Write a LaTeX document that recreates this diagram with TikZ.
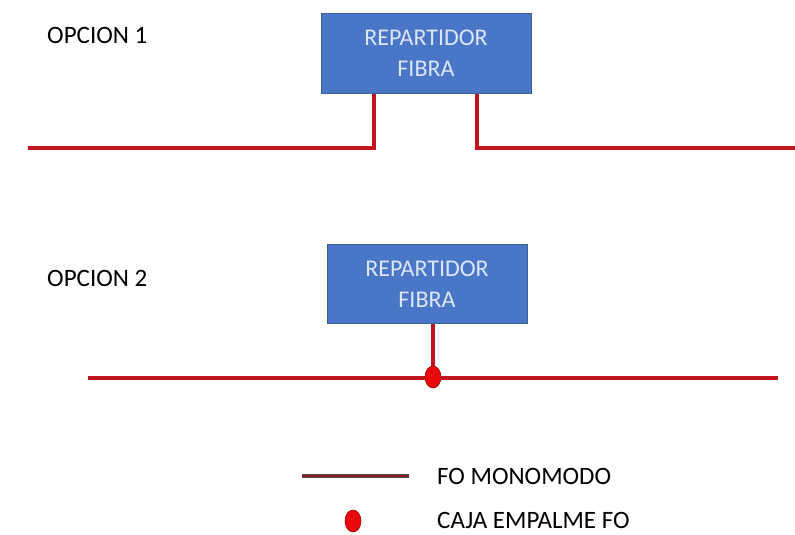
\documentclass[tikz,border=0pt]{standalone}
\usetikzlibrary{shapes.geometric}
\usepackage{fontspec}
\setmainfont{Carlito}
\begin{document}
\begin{tikzpicture}[x=1pt,y=-1pt,
  fiber/.style={draw=fiberred,line width=3.5pt},
  boxstyle/.style={draw=boxedge,fill=boxblue,line width=1pt,minimum width=#1,minimum height=79pt,align=center,
     font=\fontsize{24}{31}\selectfont,text=boxtext,inner sep=0pt},
  lbl/.style={anchor=west,font=\fontsize{25}{30}\selectfont,text=black,inner sep=0pt},
  splice/.style={ellipse,fill=dotred,draw=dotedge,line width=0.6pt,minimum width=16pt,minimum height=22pt,inner sep=0pt}]
\definecolor{fiberred}{HTML}{C0141E}
\definecolor{boxblue}{HTML}{4A76C8}
\definecolor{boxedge}{HTML}{3A5E9E}
\definecolor{boxtext}{HTML}{DCE6F5}
\definecolor{dotred}{HTML}{E80A0A}
\definecolor{dotedge}{HTML}{A00000}
\definecolor{legline}{HTML}{8E1A22}
\useasboundingbox (0,0) rectangle (795,535);
% option 1
\node[lbl] (op1) at (47,35) {OPCION 1};
\node[boxstyle=210pt] (b1) at (426,53.5) {REPARTIDOR\\FIBRA};
\coordinate (l1a) at (28,148);
\coordinate (l1b) at (374,148);
\coordinate (r1a) at (477,148);
\coordinate (r1b) at (795,148);
\draw[fiber] (l1a) -- (l1b) -- (l1b |- b1.south);
\draw[fiber] (r1b) -- (r1a) -- (r1a |- b1.south);
% option 2
\node[lbl] (op2) at (47,278) {OPCION 2};
\node[boxstyle=200pt] (b2) at (427,284) {REPARTIDOR\\FIBRA};
\coordinate (l2a) at (88,378);
\coordinate (l2b) at (778,378);
\coordinate (d2c) at (433,377);
\draw[fiber] (l2a) -- (l2b);
\draw[fiber] (d2c) -- (d2c |- b2.south);
\node[splice] (d2) at (d2c) {};
% legend
\coordinate (lg1) at (302,476);
\coordinate (lg2) at (409,476);
\draw[draw=black!70,line width=4.4pt] (lg1) -- (lg2);
\draw[draw=legline,line width=2.6pt] (lg1) -- (lg2);
\node[lbl] (t1) at (437,476) {FO MONOMODO};
\node[splice] (d3) at (353,521) {};
\node[lbl] (t2) at (437,520) {CAJA EMPALME FO};
\end{tikzpicture}
\end{document}
